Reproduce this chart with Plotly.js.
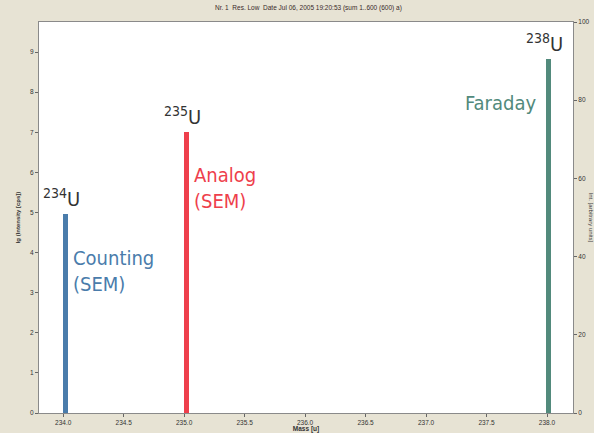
<!DOCTYPE html>
<html><head><meta charset="utf-8">
<script src="https://cdn.plot.ly/plotly-3.0.1.min.js"></script>
<style>html,body{margin:0;padding:0;background:#e7e3d4}</style>
</head><body><div id="c" style="width:594px;height:433px"></div>
<script>
const isotopes = ["234U", "235U", "238U"];
const isotopeNumbers = ["234", "235", "238"];
const masses = [234.02, 235.02, 238.01];
const lgIntensity = [4.95, 7.0, 8.82];
const detectors = ["Counting<br>(SEM)", "Analog<br>(SEM)", "Faraday"];
const colors = ["#4a7cab", "#ee3f4c", "#528a7c"];
const xTicks = [234.0, 234.5, 235.0, 235.5, 236.0, 236.5, 237.0, 237.5, 238.0];
const yTicks = [0,1,2,3,4,5,6,7,8,9];
const y2Ticks = [0,20,40,60,80,100];

const traces = masses.map((m,i)=>({
  type:'bar', x:[m], y:[lgIntensity[i]], width:[0.042],
  marker:{color:colors[i], line:{width:0}}, name:isotopes[i], showlegend:false, hoverinfo:'skip'
}));
traces.push({type:'scatter', x:[236], y:[0], yaxis:'y2', mode:'markers', marker:{opacity:0}, showlegend:false, hoverinfo:'skip'});

const fontU = "DejaVu Sans Condensed, Liberation Sans Narrow, Roboto, sans-serif";
const ann = [];
masses.forEach((m,i)=>{
  ann.push({x:m, y:lgIntensity[i], xref:'x', yref:'y', yanchor:'bottom', xanchor:'center', yshift:1, xshift:-4,
    text:'<sup>'+isotopeNumbers[i]+'</sup>U', showarrow:false, font:{family:fontU, size:20, color:'#333'}});
});
ann.push({x:masses[0], y:3.55, xref:'x', yref:'y', xanchor:'left', yanchor:'middle', xshift:5, align:'left',
  text:detectors[0], showarrow:false, font:{family:fontU, size:20, color:colors[0]}});
ann.push({x:masses[1], y:5.62, xref:'x', yref:'y', xanchor:'left', yanchor:'middle', xshift:5, align:'left',
  text:detectors[1], showarrow:false, font:{family:fontU, size:20, color:colors[1]}});
ann.push({x:masses[2], y:7.72, xref:'x', yref:'y', xanchor:'right', yanchor:'middle', xshift:-10, align:'right',
  text:detectors[2], showarrow:false, font:{family:fontU, size:20, color:colors[2]}});
ann.push({x:0.505, y:1, xref:'paper', yref:'paper', yanchor:'bottom', yshift:8, showarrow:false,
  text:'Nr. 1  Res. Low  Date Jul 06, 2005 19:20:53 (sum 1..600 (600) a)', font:{family:'Arial', size:6.5, color:'#3a2a2a'}});
ann.push({x:1, y:0.5, xref:'paper', yref:'paper', xanchor:'left', xshift:13, showarrow:false, textangle:90,
  text:'Int. [arbitrary units]', font:{family:'Arial', size:6, color:'#444'}});

const tickFont = {family:'Arial', size:6.5, color:'#333'};
const layout = {
  width:594, height:433,
  paper_bgcolor:'#e7e3d4', plot_bgcolor:'#ffffff',
  margin:{l:39, r:21, t:22, b:20},
  bargap:0,
  xaxis:{range:[233.8, 238.215], tickvals:xTicks, ticktext:xTicks.map(v=>v.toFixed(1)), ticks:'outside', ticklen:3, tickcolor:'#666',
    showgrid:false, zeroline:false, showline:true, linecolor:'#8a8a8a', linewidth:1, mirror:true, tickfont:tickFont,
    title:{text:'<b>Mass [u]</b>', font:{family:'Arial', size:6.5, color:'#333'}, standoff:1}},
  yaxis:{range:[0, 9.75], tickvals:yTicks, ticks:'outside', ticklen:3, tickcolor:'#666', showgrid:false, zeroline:false,
    showline:true, linecolor:'#8a8a8a', tickfont:tickFont,
    title:{text:'<b>lg (Intensity [cps])</b>', font:{family:'Arial', size:6, color:'#333'}, standoff:8}},
  yaxis2:{range:[0,100], overlaying:'y', side:'right', tickvals:y2Ticks, ticks:'outside', ticklen:3, tickcolor:'#666',
    showgrid:false, zeroline:false, showline:true, linecolor:'#8a8a8a', tickfont:tickFont},
  annotations:ann
};
Plotly.newPlot('c', traces, layout, {displayModeBar:false, staticPlot:true});
</script></body></html>
